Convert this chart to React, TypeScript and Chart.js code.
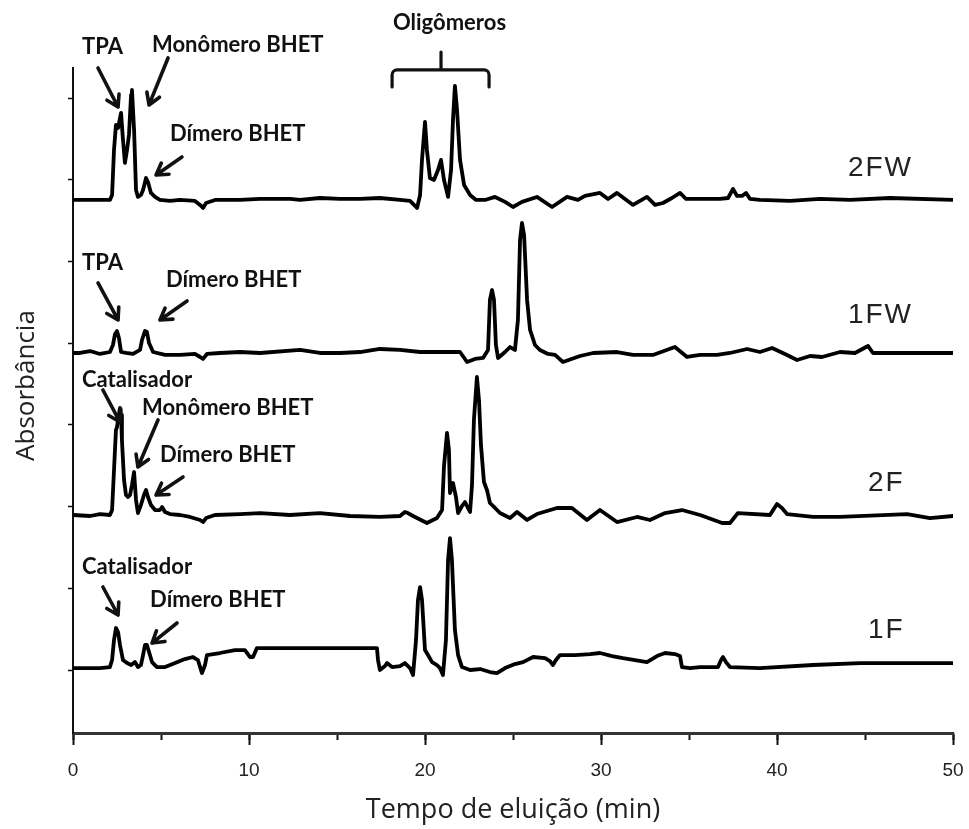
import { useEffect, useRef } from 'react';
import { Chart, registerables } from 'chart.js';

Chart.register(...registerables);

// Chromatograms: [elution time (min), absorbance above the trace baseline]
const trace1F: [number, number][] = [
  [0, 0], [1.53, 0], [2.10, 0.012], [2.22, 0.098], [2.33, 0.343], [2.44, 0.490], [2.56, 0.441],
  [2.67, 0.282], [2.84, 0.098], [3.07, 0.061], [3.30, 0.037], [3.52, 0.073], [3.69, 0.012],
  [3.86, 0.037], [3.98, 0.159], [4.09, 0.282], [4.20, 0.282], [4.32, 0.196], [4.49, 0.073],
  [4.77, 0.012], [5.23, 0.012], [5.80, 0.061], [6.36, 0.110], [6.82, 0.135], [7.10, 0.098],
  [7.27, -0.024], [7.33, -0.061], [7.50, 0.037], [7.61, 0.159], [8.35, 0.184], [9.20, 0.220],
  [9.77, 0.220], [10.06, 0.135], [10.23, 0.135], [10.45, 0.245], [12.90, 0.245], [15.17, 0.245],
  [17.27, 0.245], [17.33, 0.098], [17.44, -0.024], [17.73, 0.024], [17.84, 0.061], [18.13, 0.012],
  [18.58, 0.024], [18.86, 0.061], [19.15, 0], [19.32, -0.086], [19.49, 0.343], [19.60, 0.832],
  [19.72, 0.991], [19.83, 0.832], [20.00, 0.220], [20.17, 0.159], [20.40, 0.073], [20.68, 0.037],
  [20.85, 0], [21.02, -0.086], [21.19, 0.343], [21.31, 1.322], [21.42, 1.591], [21.53, 1.322],
  [21.70, 0.465], [21.88, 0.159], [22.10, 0.012], [22.56, -0.024], [23.13, -0.012], [23.69, -0.049],
  [24.09, -0.061], [24.55, 0], [25.11, 0.049], [25.57, 0.073], [26.14, 0.135], [26.82, 0.122],
  [27.10, 0.086], [27.27, 0.037], [27.44, 0.098], [27.67, 0.159], [28.52, 0.159], [29.38, 0.171],
  [29.94, 0.184], [30.63, 0.147], [31.25, 0.122], [31.93, 0.098], [32.61, 0.073], [33.18, 0.147],
  [33.64, 0.184], [34.20, 0.171], [34.49, 0.147], [34.60, 0.012], [35.06, 0], [35.63, 0.012],
  [36.65, 0.012], [36.82, 0.098], [36.93, 0.135], [37.10, 0.073], [37.33, 0.012], [39.03, 0],
  [42.05, 0.037], [44.72, 0.061], [50, 0.061],
];

const trace2F: [number, number][] = [
  [0, 0], [0.97, -0.012], [1.53, 0.012], [2.10, 0], [2.22, 0.061], [2.33, 0.551], [2.44, 1.040],
  [2.50, 1.077], [2.56, 1.163], [2.67, 1.310], [2.73, 1.224], [2.78, 0.918], [2.90, 0.428],
  [3.01, 0.245], [3.13, 0.220], [3.24, 0.245], [3.35, 0.367], [3.47, 0.526], [3.58, 0.184],
  [3.69, 0.024], [3.86, 0.122], [4.03, 0.245], [4.15, 0.306], [4.26, 0.220], [4.43, 0.122],
  [4.66, 0.061], [4.94, 0.061], [5.06, 0.098], [5.23, 0.037], [5.51, 0.012], [6.08, 0],
  [6.65, -0.024], [7.22, -0.061], [7.39, -0.086], [7.56, -0.037], [8.07, 0], [9.49, 0.012],
  [10.63, 0.024], [12.33, 0], [14.03, 0.024], [15.74, -0.012], [17.44, -0.024], [18.58, -0.012],
  [18.86, 0.037], [19.03, 0.024], [19.32, -0.012], [20.11, -0.098], [20.68, -0.037], [20.97, 0.061],
  [21.08, 0.600], [21.25, 1.004], [21.36, 0.800], [21.42, 0.269], [21.59, 0.392], [21.76, 0.220],
  [21.88, 0.024], [22.10, 0.110], [22.27, 0.159], [22.44, 0.086], [22.56, 0.037], [22.67, 0.367],
  [22.78, 1.163], [22.95, 1.689], [23.07, 1.400], [23.18, 0.857], [23.35, 0.404], [23.52, 0.306],
  [23.69, 0.147], [23.98, 0.086], [24.26, 0.024], [24.83, -0.037], [25.23, 0.037], [25.80, -0.061],
  [26.36, 0.012], [27.50, 0.086], [28.35, 0.086], [29.20, -0.061], [29.94, 0.061], [30.91, -0.086],
  [32.05, -0.024], [32.78, -0.061], [33.64, 0.024], [34.60, 0.061], [35.63, 0], [36.88, -0.098],
  [37.33, -0.098], [37.78, 0.024], [39.60, 0], [40.00, 0.135], [40.28, 0.086], [40.57, 0.012],
  [42.05, -0.024], [43.58, -0.024], [47.39, 0.012], [48.69, -0.037], [50, -0.012],
];

const trace1FW: [number, number][] = [
  [0, 0], [0.40, 0], [0.97, 0.024], [1.53, -0.012], [2.10, 0.012], [2.27, 0.098], [2.39, 0.233],
  [2.50, 0.269], [2.61, 0.184], [2.73, 0.012], [3.01, 0], [3.41, -0.012], [3.81, 0.037],
  [3.92, 0.159], [4.09, 0.269], [4.20, 0.257], [4.32, 0.122], [4.55, 0.012], [5.23, -0.024],
  [6.08, -0.024], [6.93, -0.012], [7.22, -0.049], [7.39, -0.073], [7.61, -0.012], [8.35, 0],
  [9.49, 0.012], [10.63, 0], [12.90, 0.037], [14.03, 0], [15.17, 0], [16.31, 0.012], [17.44, 0.049],
  [18.58, 0.037], [19.72, 0.012], [20.85, 0.012], [21.99, 0.012], [22.39, -0.110], [22.84, -0.073],
  [23.30, -0.061], [23.58, 0.037], [23.69, 0.649], [23.81, 0.771], [23.92, 0.649], [24.03, 0.098],
  [24.15, -0.061], [24.55, 0.012], [24.83, 0.073], [25.11, 0.037], [25.28, 0.404], [25.40, 1.383],
  [25.51, 1.591], [25.63, 1.444], [25.80, 0.649], [25.97, 0.282], [26.25, 0.098], [26.53, 0.037],
  [26.99, -0.012], [27.39, -0.024], [27.84, -0.110], [28.81, -0.037], [29.55, 0], [30.91, 0.012],
  [31.82, -0.024], [32.95, -0.024], [34.20, 0.073], [34.89, -0.049], [35.63, -0.024], [36.59, -0.024],
  [37.33, 0], [38.30, 0.049], [39.03, 0.012], [39.72, 0.061], [40.45, -0.012], [41.14, -0.086],
  [41.88, -0.037], [42.56, -0.049], [43.58, 0.012], [44.43, 0], [45.17, 0.086], [45.45, 0],
  [46.99, 0], [50, 0],
];

const trace2FW: [number, number][] = [
  [0, 0], [2.10, 0], [2.22, 0.061], [2.33, 0.612], [2.44, 0.918], [2.56, 0.881], [2.73, 1.065],
  [2.84, 0.734], [2.95, 0.453], [3.07, 0.612], [3.18, 0.796], [3.30, 1.285], [3.35, 1.346],
  [3.47, 0.857], [3.58, 0.122], [3.69, 0.037], [3.86, 0.061], [3.98, 0.122], [4.15, 0.269],
  [4.26, 0.220], [4.43, 0.086], [4.66, 0.037], [4.94, 0], [5.51, -0.012], [6.08, 0], [6.93, -0.012],
  [7.22, -0.061], [7.39, -0.098], [7.56, -0.037], [8.07, 0], [9.49, 0], [10.63, 0.012], [12.33, 0.012],
  [12.90, 0], [14.03, 0.024], [15.17, 0.012], [16.31, 0.012], [17.44, 0.024], [18.58, 0],
  [19.15, -0.012], [19.55, -0.098], [19.72, 0.061], [19.83, 0.490], [20.00, 0.955], [20.11, 0.612],
  [20.28, 0.269], [20.51, 0.245], [20.74, 0.367], [20.91, 0.490], [21.08, 0.245], [21.31, 0.037],
  [21.48, 0.367], [21.59, 0.979], [21.70, 1.395], [21.82, 1.102], [21.99, 0.490], [22.22, 0.184],
  [22.56, 0.061], [22.90, 0], [23.41, 0], [23.98, 0.037], [24.55, -0.024], [25.00, -0.086],
  [25.51, -0.024], [26.36, 0.037], [27.22, -0.086], [28.07, 0.037], [28.69, 0], [29.09, 0.049],
  [29.94, 0.086], [30.40, 0.012], [30.91, 0.086], [31.82, -0.061], [32.61, 0.037], [33.07, -0.061],
  [33.52, -0.037], [34.03, 0.024], [34.49, 0.086], [34.83, 0.012], [35.63, 0.012], [36.76, 0.012],
  [37.22, 0.024], [37.50, 0.135], [37.73, 0.049], [38.01, 0.049], [38.24, 0.086], [38.47, 0.012],
  [39.03, 0], [40.74, -0.012], [42.44, 0.012], [44.15, 0], [46.42, 0.024], [50, 0],
];

// Stacking of the four samples (bottom to top)
const sampleNames = ['1F', '2F', '1FW', '2FW'];
const sampleTraces = [trace1F, trace2F, trace1FW, trace2FW];
const sampleOffsets = [0.024, 1.897, 3.88, 5.753];
const sampleNameTime = [45.17, 45.17, 44.03, 44.03];
const sampleNameLift = [0.465, 0.39, 0.465, 0.39];

// Axes
const timeRange = [0, 50];
const absorbanceRange = [-0.771, 7.368];

// Peak labels: text, left edge (min), vertical centre (axis units)
const noteTexts = [
  'TPA', 'Monômero BHET', 'Dímero BHET',
  'TPA', 'Dímero BHET',
  'Catalisador', 'Monômero BHET', 'Dímero BHET',
  'Catalisador', 'Dímero BHET',
];
const noteTime = [0.51, 4.49, 5.51, 0.51, 5.28, 0.51, 3.92, 4.94, 0.51, 4.38];
const noteLevel = [7.625, 7.65, 6.561, 4.982, 4.774, 3.55, 3.207, 2.632, 1.261, 0.857];

// Arrows pointing at the peaks: tail and tip (min, axis units)
const arrowTail: [number, number][] = [
  [1.42, 7.368], [5.40, 7.491], [6.19, 6.279], [1.42, 4.737], [6.48, 4.517],
  [1.70, 3.427], [4.83, 3.06], [6.25, 2.362], [1.70, 1.016], [5.91, 0.575],
];
const arrowTip: [number, number][] = [
  [2.56, 6.891], [4.32, 6.916], [4.72, 6.059], [2.56, 4.284], [4.94, 4.284],
  [2.67, 3.035], [3.69, 2.485], [4.72, 2.142], [2.56, 0.673], [4.49, 0.33],
];

// Bracket grouping the oligomer peaks
const oligoLabel = 'Oligômeros';
const oligoSpan = [18.13, 23.64];
const oligoCentre = 20.91;
const oligoLevels = [7.136, 7.344, 7.564]; // end hooks, bar, centre spike
const oligoLabelPos = [18.18, 7.919];

const chartNotes = {
  id: 'chartNotes',
  afterDraw(chart: any) {
    const { ctx } = chart;
    const xs = chart.scales.x;
    const ys = chart.scales.y;
    const px = (t: number) => xs.getPixelForValue(t);
    const py = (v: number) => ys.getPixelForValue(v);
    ctx.save();

    // peak annotations
    ctx.fillStyle = '#111';
    ctx.font = 'bold 22px Lato';
    ctx.textAlign = 'left';
    ctx.textBaseline = 'middle';
    noteTexts.forEach((s, i) => ctx.fillText(s, px(noteTime[i]), py(noteLevel[i])));
    ctx.fillText(oligoLabel, px(oligoLabelPos[0]), py(oligoLabelPos[1]));

    ctx.strokeStyle = '#111';
    ctx.lineWidth = 3.6;
    ctx.lineCap = 'round';
    ctx.lineJoin = 'round';
    arrowTail.forEach((tail, i) => {
      const x0 = px(tail[0]);
      const y0 = py(tail[1]);
      const x1 = px(arrowTip[i][0]);
      const y1 = py(arrowTip[i][1]);
      const a = Math.atan2(y1 - y0, x1 - x0);
      const head = 13;
      ctx.beginPath();
      ctx.moveTo(x0, y0);
      ctx.lineTo(x1, y1);
      ctx.moveTo(x1 - head * Math.cos(a - 0.55), y1 - head * Math.sin(a - 0.55));
      ctx.lineTo(x1, y1);
      ctx.lineTo(x1 - head * Math.cos(a + 0.55), y1 - head * Math.sin(a + 0.55));
      ctx.stroke();
    });

    // oligomer bracket
    const bl = px(oligoSpan[0]);
    const br = px(oligoSpan[1]);
    const bc = px(oligoCentre);
    const yEnd = py(oligoLevels[0]);
    const yBar = py(oligoLevels[1]);
    const ySpike = py(oligoLevels[2]);
    ctx.lineWidth = 3.2;
    ctx.beginPath();
    ctx.moveTo(bl, yEnd);
    ctx.arcTo(bl, yBar, bl + 6, yBar, 5);
    ctx.lineTo(br - 6, yBar);
    ctx.arcTo(br, yBar, br, yEnd, 5);
    ctx.lineTo(br, yEnd);
    ctx.moveTo(bc, yBar);
    ctx.lineTo(bc, ySpike);
    ctx.stroke();

    // sample names
    ctx.fillStyle = '#222';
    ctx.font = '28px "Liberation Sans"';
    ctx.letterSpacing = '2px';
    sampleNames.forEach((name, i) => {
      ctx.fillText(name, px(sampleNameTime[i]), py(sampleOffsets[i] + sampleNameLift[i]));
    });
    ctx.letterSpacing = '0px';

    // vertical axis title
    ctx.font = '26px "Open Sans"';
    ctx.textAlign = 'center';
    ctx.translate(27, (ys.top + ys.bottom) / 2 - 15);
    ctx.rotate(-Math.PI / 2);
    ctx.fillText('Absorbância', 0, 0);
    ctx.restore();
  },
};

// Bottom axes keep a fixed height and leave the side margins to the layout padding
const fixBottomAxis = (height: number) => (scale: any) => {
  scale.height = height;
  scale.paddingLeft = 0;
  scale.paddingRight = 0;
};

export default function App() {
  const canvasRef = useRef<HTMLCanvasElement | null>(null);

  useEffect(() => {
    const canvas = canvasRef.current;
    if (!canvas) return;
    const chart = new Chart(canvas, {
      type: 'line',
      data: {
        datasets: sampleTraces.map((trace, i) => ({
          label: sampleNames[i],
          data: trace.map(([t, a]) => ({ x: t, y: a + sampleOffsets[i] })),
          xAxisID: 'x',
          yAxisID: 'y',
          borderColor: '#000',
          borderWidth: 3.8,
          pointRadius: 0,
          tension: 0,
          fill: false,
          borderJoinStyle: 'round' as const,
          borderCapStyle: 'round' as const,
        })),
      },
      options: {
        responsive: false,
        animation: false,
        layout: { padding: { left: 0, top: 68, right: 16, bottom: 0 } },
        plugins: {
          legend: { display: false },
          tooltip: { enabled: false },
        },
        scales: {
          x: {
            type: 'linear',
            position: 'bottom',
            weight: 1,
            min: timeRange[0],
            max: timeRange[1],
            ticks: {
              stepSize: 10,
              color: '#222',
              font: { family: '"Liberation Sans", Arial, sans-serif', size: 19 },
              padding: 14,
              maxRotation: 0,
              autoSkip: false,
            },
            grid: { drawOnChartArea: false, tickLength: 12, tickWidth: 2, tickColor: '#111' },
            border: { display: true, width: 3, color: '#333' },
            title: {
              display: true,
              text: 'Tempo de eluição (min)',
              color: '#222',
              font: { family: '"Open Sans"', size: 27 },
              padding: { top: 0, bottom: 2 },
            },
            afterFit: fixBottomAxis(96),
          },
          xMinor: {
            type: 'linear',
            position: 'bottom',
            weight: 0,
            min: timeRange[0],
            max: timeRange[1],
            ticks: { display: false, stepSize: 5 },
            grid: { drawOnChartArea: false, tickLength: 7, tickWidth: 2, tickColor: '#111' },
            border: { display: false },
            afterFit: fixBottomAxis(0),
          },
          y: {
            type: 'linear',
            min: absorbanceRange[0],
            max: absorbanceRange[1],
            ticks: { display: false, stepSize: 1, includeBounds: false },
            grid: { drawOnChartArea: false, tickLength: 5, tickWidth: 1.5, tickColor: '#111' },
            border: { display: true, width: 2, color: '#111' },
            afterFit: (scale: any) => {
              scale.width = 73;
            },
          },
        },
      },
      plugins: [chartNotes],
    } as any);
    return () => chart.destroy();
  }, []);

  return (
    <div style={{ position: 'absolute', left: 0, top: 0, width: 969, height: 829, background: '#fff' }}>
      <canvas ref={canvasRef} width={969} height={829} />
    </div>
  );
}
